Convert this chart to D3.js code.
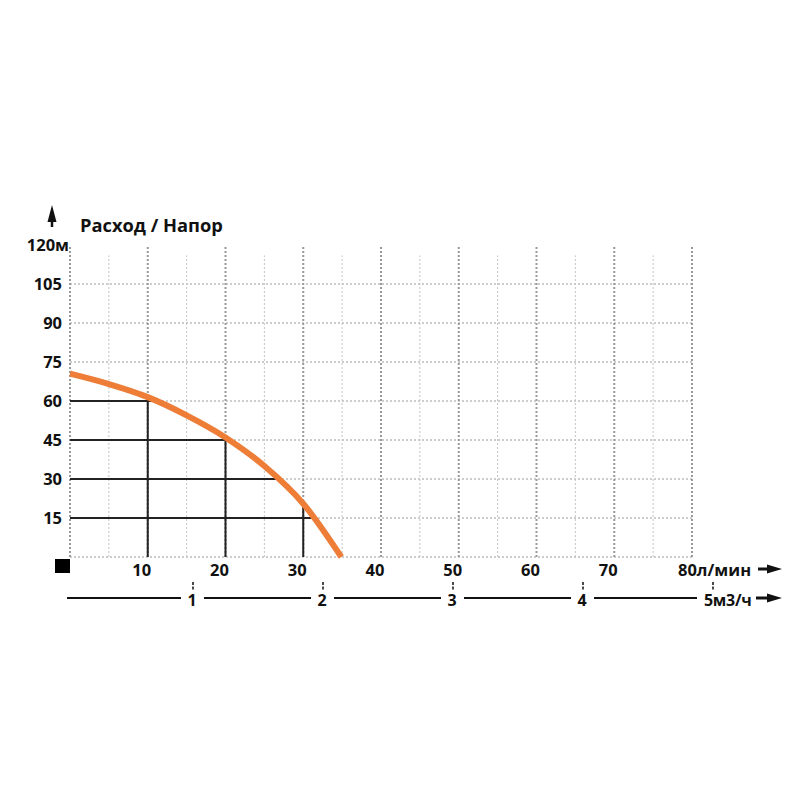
<!DOCTYPE html>
<html>
<head>
<meta charset="utf-8">
<script src="https://cdn.jsdelivr.net/npm/d3@7"></script>
<style>
  body { margin: 0; background: #fff; }
  svg text { font-family: "Open Sans", "DejaVu Sans", sans-serif; font-weight: bold; fill: #111; }
</style>
</head>
<body>
<svg id="chart" width="800" height="800"></svg>
<script>
// Pump curve: flow (l/min) vs head (m)
var flowValues = [0, 5, 10, 15, 20, 25, 30, 34.9];
var headValues = [70.5, 66.5, 61.5, 54.5, 46, 35, 20.5, 0];

// Reference lines drawn under the curve
var refHeads = [60, 45, 30, 15];
var refHeadFlows = [11, 20.2, 26.9, 31.2];
var refFlows = [10, 20, 30];
var refFlowHeads = [61.5, 46, 20.5];

// Tick labels
var headTicks = [15, 30, 45, 60, 75, 90, 105, 120];
var flowTicks = [10, 20, 30, 40, 50, 60, 70, 80];
var cubicTicks = [1, 2, 3, 4, 5];

var svg = d3.select("#chart");

var x = d3.scaleLinear().domain([0, 80]).range([70, 692]);
var y = d3.scaleLinear().domain([0, 120]).range([557, 245]);
// second flow axis (m3/h) as drawn on the sheet
var xc = d3.scaleLinear().domain([1, 5]).range([193, 713]);

var grid = svg.append("g");

// horizontal grid lines
grid.selectAll(".hgrid")
    .data(d3.range(0, 120, 15))
    .enter()
  .append("line")
    .attr("x1", x(0))
    .attr("x2", x(80))
    .attr("y1", d => y(d))
    .attr("y2", d => y(d))
    .attr("stroke", "#9a9a9a")
    .attr("stroke-width", 1)
    .attr("stroke-dasharray", "2,2");

// minor vertical grid lines
grid.selectAll(".vminor")
    .data(d3.range(5, 80, 10))
    .enter()
  .append("line")
    .attr("x1", d => x(d))
    .attr("x2", d => x(d))
    .attr("y1", y(0))
    .attr("y2", y(116))
    .attr("stroke", "#c4c4c4")
    .attr("stroke-width", 1)
    .attr("stroke-dasharray", "2,2");

// major vertical grid lines
grid.selectAll(".vmajor")
    .data(d3.range(0, 81, 10))
    .enter()
  .append("line")
    .attr("x1", d => x(d))
    .attr("x2", d => x(d))
    .attr("y1", y(0))
    .attr("y2", y(120))
    .attr("stroke", "#999")
    .attr("stroke-width", 2)
    .attr("stroke-dasharray", "2,2");

// black reference lines
var refs = svg.append("g")
    .attr("stroke", "#222")
    .attr("stroke-width", 2);

refs.selectAll(".hline")
    .data(refHeads)
    .enter()
  .append("line")
    .attr("x1", x(0))
    .attr("x2", (d, i) => x(refHeadFlows[i]))
    .attr("y1", d => y(d))
    .attr("y2", d => y(d));

refs.selectAll(".vline")
    .data(refFlows)
    .enter()
  .append("line")
    .attr("x1", d => x(d))
    .attr("x2", d => x(d))
    .attr("y1", y(0))
    .attr("y2", (d, i) => y(refFlowHeads[i]));

// pump curve
var line = d3.line()
    .x(d => x(d[0]))
    .y(d => y(d[1]))
    .curve(d3.curveMonotoneX);

svg.append("path")
    .datum(flowValues.map((q, i) => [q, headValues[i]]))
    .attr("d", line)
    .attr("fill", "none")
    .attr("stroke", "#ee7d37")
    .attr("stroke-width", 6);

// head labels
svg.selectAll(".ylab")
    .data(headTicks)
    .enter()
  .append("text")
    .attr("x", d => d === 120 ? 69 : 62)
    .attr("y", d => y(d) + 6)
    .attr("text-anchor", "end")
    .attr("font-size", 16.5)
    .text(d => d === 120 ? d + "м" : d);

// flow labels (l/min)
svg.selectAll(".xlab")
    .data(flowTicks)
    .enter()
  .append("text")
    .attr("x", d => d === 80 ? x(d) - 14 : x(d) - 6)
    .attr("y", 576)
    .attr("text-anchor", d => d === 80 ? "start" : "middle")
    .attr("font-size", 16.5)
    .text(d => d === 80 ? d + "л/мин" : d);

// m3/h axis
var cubicY = 598;
var segStarts = [67].concat(cubicTicks.slice(0, 4).map(d => xc(d) + 11));
var segEnds = cubicTicks.map((d, i) => i === 4 ? xc(d) - 16 : xc(d) - 12);

svg.selectAll(".cseg")
    .data(segStarts)
    .enter()
  .append("line")
    .attr("x1", d => d)
    .attr("x2", (d, i) => segEnds[i])
    .attr("y1", cubicY)
    .attr("y2", cubicY)
    .attr("stroke", "#111")
    .attr("stroke-width", 2);

svg.selectAll(".ctick")
    .data(cubicTicks)
    .enter()
  .append("line")
    .attr("x1", d => xc(d))
    .attr("x2", d => xc(d))
    .attr("y1", 582)
    .attr("y2", 590)
    .attr("stroke", "#111")
    .attr("stroke-width", 1.5)
    .attr("stroke-dasharray", "3,1.5");

svg.selectAll(".clab")
    .data(cubicTicks)
    .enter()
  .append("text")
    .attr("x", d => d === 5 ? xc(d) - 9 : xc(d) - 1)
    .attr("y", 606)
    .attr("text-anchor", d => d === 5 ? "start" : "middle")
    .attr("font-size", 16)
    .attr("letter-spacing", d => d === 5 ? -0.3 : 0)
    .text(d => d === 5 ? d + "м3/ч" : d);

// arrows
function rightArrow(x0, x1, yy) {
  svg.append("line")
      .attr("x1", x0).attr("x2", x1 - 10)
      .attr("y1", yy).attr("y2", yy)
      .attr("stroke", "#111").attr("stroke-width", 3);
  svg.append("path")
      .attr("d", "M" + (x1 - 15) + "," + (yy - 4.5) + "L" + x1 + "," + yy + "L" + (x1 - 15) + "," + (yy + 4.5) + "Z")
      .attr("fill", "#111");
}
rightArrow(758, 782, 569);
rightArrow(756, 782, cubicY);

// up arrow
svg.append("line")
    .attr("x1", 52).attr("x2", 52)
    .attr("y1", 212).attr("y2", 227)
    .attr("stroke", "#111").attr("stroke-width", 2.5);
svg.append("path")
    .attr("d", "M52,205L56.5,222L47.5,222Z")
    .attr("fill", "#111");

// origin square
svg.append("rect")
    .attr("x", 55).attr("y", 559)
    .attr("width", 15).attr("height", 14)
    .attr("fill", "#000");

// title
svg.append("text")
    .attr("x", 80)
    .attr("y", 232)
    .attr("font-size", 18.3)
    .text("Расход / Напор");
</script>
</body>
</html>
